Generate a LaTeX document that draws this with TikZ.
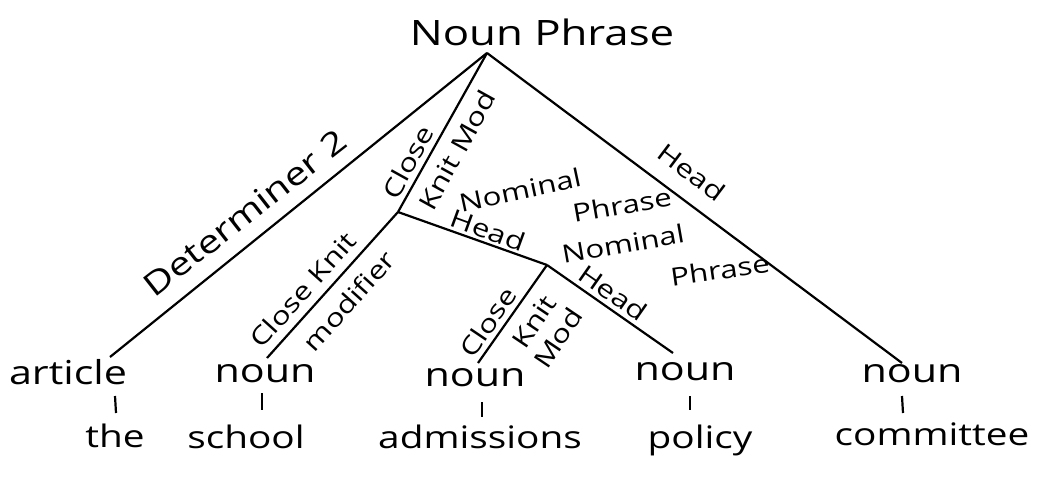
\documentclass[tikz,border=0pt]{standalone}
\usepackage{fontspec}
\newfontfamily\hand[FakeStretch=1.25]{Open Sans}
\begin{document}
\begin{tikzpicture}[x=1pt,y=-1pt,line width=2.2pt,
  every node/.style={inner sep=0pt},
  rootlbl/.style={font=\hand\fontsize{35}{38}\selectfont,anchor=base},
  leaflbl/.style={font=\hand\fontsize{33}{36}\selectfont,anchor=base},
  wordlbl/.style={font=\hand\fontsize{31}{34}\selectfont,anchor=base},
  biglbl/.style={font=\hand\fontsize{32}{36}\selectfont},
  edgelbl/.style={font=\hand\fontsize{25}{29}\selectfont,align=center}]
\fill[white] (0,0) rectangle (1038,480);
\useasboundingbox (0,0) rectangle (1038,480);

% tree labels
\node[rootlbl] (np) at (542,45) {Noun Phrase};
\coordinate (top) at (487,53);
\coordinate (A) at (398,212);
\coordinate (B) at (547,265);

\node[leaflbl] (art) at (68,384) {article};
\node[leaflbl] (n1) at (265,382) {noun};
\node[leaflbl] (n2) at (475,386) {noun};
\node[leaflbl] (n3) at (685,380) {noun};
\node[leaflbl] (n4) at (912,382) {noun};

\node[wordlbl] (w1) at (115,447) {the};
\node[wordlbl] (w2) at (246,448) {school};
\node[wordlbl] (w3) at (480,448) {admissions};
\node[wordlbl] (w4) at (700,448) {policy};
\node[wordlbl] (w5) at (932,445) {committee};

% line ends
\coordinate (e1) at (110,357);
\coordinate (e2) at (267,358);
\coordinate (e3) at (478,363);
\coordinate (e4) at (673,353);
\coordinate (e5) at (902,363);

% branches
\draw (top) -- (e1);
\draw (top) -- (A);
\draw (top) -- (e5);
\draw (A) -- (e2);
\draw (A) -- (B);
\draw (B) -- (e3);
\draw (B) -- (e4);

% ticks
\coordinate (t1a) at (115,396); \coordinate (t1b) at (116,413);
\coordinate (t2a) at (262,393); \coordinate (t2b) at (262,410);
\coordinate (t3a) at (482,402); \coordinate (t3b) at (482,417);
\coordinate (t4a) at (690,396); \coordinate (t4b) at (690,410);
\coordinate (t5a) at (902,396); \coordinate (t5b) at (903,413);
\draw (t1a) -- (t1b);
\draw (t2a) -- (t2b);
\draw (t3a) -- (t3b);
\draw (t4a) -- (t4b);
\draw (t5a) -- (t5b);

% edge labels
\node[biglbl,rotate=38] (det) at (245,213) {Determiner 2};
\node[edgelbl,rotate=61] (ck1) at (408,162) {Close};
\node[edgelbl,rotate=61] (km1) at (457,150) {Knit Mod};
\node[edgelbl,rotate=12] (nom1) at (520,190) {Nominal};
\node[edgelbl,rotate=10] (phr1) at (622,205) {Phrase};
\node[edgelbl,rotate=-20] (hd1) at (488,230) {Head};
\node[edgelbl,rotate=10] (nom2) at (623,244) {Nominal};
\node[edgelbl,rotate=8] (phr2) at (720,270) {Phrase};
\node[edgelbl,rotate=-35] (hd2) at (613,293) {Head};
\node[edgelbl,rotate=48] (ck2) at (303,290) {Close Knit};
\node[edgelbl,rotate=48] (mod2) at (349,301) {modifier};
\node[edgelbl,rotate=56] (cl3) at (488,322) {Close};
\node[edgelbl,rotate=56] (km3) at (546,330) {Knit\\Mod};
\node[edgelbl,rotate=-37] (hd3) at (692,172) {Head};
\end{tikzpicture}
\end{document}
